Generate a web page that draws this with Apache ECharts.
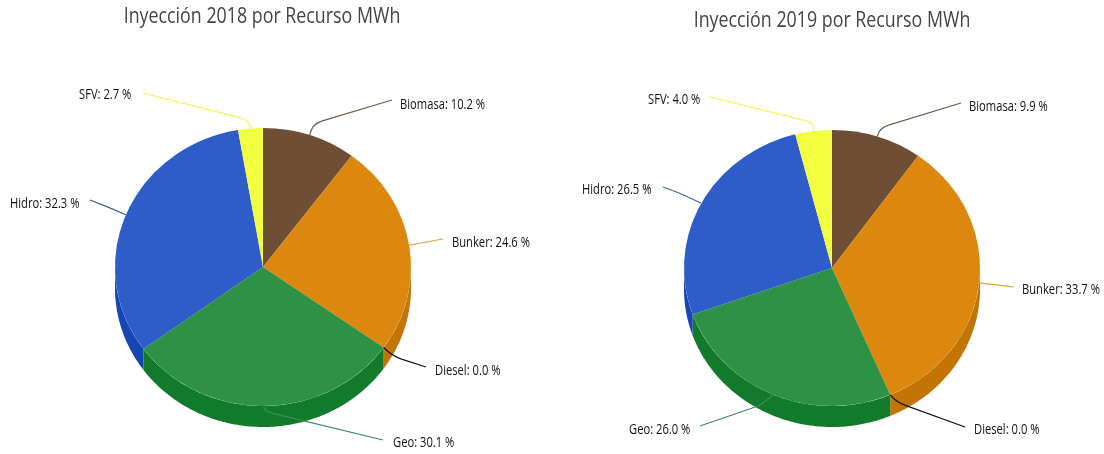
<!DOCTYPE html>
<html>
<head>
<meta charset="utf-8">
<title>Inyección por Recurso</title>
<style>html,body{margin:0;padding:0;background:#fff}#chart{width:1104px;height:454px}</style>
<script src="https://cdn.jsdelivr.net/npm/echarts@6/dist/echarts.min.js"></script>
</head>
<body>
<div id="chart"></div>
<script>
// Energy sources, clockwise from twelve o'clock
const sources = ['Biomasa', 'Bunker', 'Diesel', 'Geo', 'Hidro', 'SFV'];
// Share of injection per source, in percent
const shares2018 = [10.2, 24.6, 0.0, 30.1, 32.3, 2.7];
const shares2019 = [9.9, 33.7, 0.0, 26.0, 26.5, 4.0];

const topColors = ['#6e4e35', '#dc880e', '#111111', '#2d9245', '#2e5cc8', '#f2ff40'];
const sideColors = ['#55391f', '#c47403', '#000000', '#127a2b', '#1646b4', '#c8d020'];
const lineColors = ['#6e5a4a', '#e0a040', '#111111', '#3f8a5c', '#3f5f9f', '#f0f550'];

// No condensed face is installed, so Open Sans is narrowed horizontally
const FONT = '"Open Sans", sans-serif';
const NARROW_LABEL = 0.8;
const NARROW_TITLE = 0.81;

// Tilted-disc geometry of each pie
const disc2018 = { cx: 263, cy: 267, rx: 148, ry: 139, depth: 21 };
const disc2019 = { cx: 832, cy: 268, rx: 148, ry: 138, depth: 21 };

// Leader line bend, leader end and label start for each source
const callouts2018 = [
  { bend: [312, 124], end: [392, 100], label: [400, 105] },
  { bend: [426, 242], end: [443, 239], label: [452, 243] },
  { bend: [392, 356], end: [426, 367], label: [435, 371] },
  { bend: [263, 411], end: [383, 440], label: [393, 443] },
  { bend: [108, 207], end: [90, 200], label: [10, 204] },
  { bend: [250, 120], end: [143, 93], label: [79, 95] }
];
const callouts2019 = [
  { bend: [879, 128], end: [961, 103], label: [969, 107] },
  { bend: [996, 285], end: [1014, 287], label: [1022, 290] },
  { bend: [896, 402], end: [965, 427], label: [974, 430] },
  { bend: [764, 404], end: [700, 426], label: [629, 430] },
  { bend: [682, 194], end: [663, 187], label: [582, 190] },
  { bend: [815, 123], end: [710, 97], label: [648, 100] }
];

// Start and end angle of a slice on the screen, clockwise from twelve o'clock
function sliceAngles(values, i) {
  const total = values.reduce((a, b) => a + b, 0);
  const before = values.slice(0, i).reduce((a, b) => a + b, 0);
  const toAngle = v => -Math.PI / 2 + 2 * Math.PI * v / total;
  return [toAngle(before), toAngle(before + values[i])];
}

// Outer wall of the disc: only the part of a slice that faces the viewer
function sideSeries(values, disc) {
  return {
    type: 'custom', coordinateSystem: 'none', silent: true, clip: false,
    data: values,
    renderItem(params) {
      const i = params.dataIndex;
      let [a, b] = sliceAngles(values, i);
      a = Math.max(a, 0);
      b = Math.min(b, Math.PI);
      if (b <= a) return { type: 'group', children: [] };
      const rim = [];
      const steps = Math.ceil((b - a) * 60);
      for (let s = 0; s <= steps; s++) {
        const t = a + (b - a) * s / steps;
        rim.push([disc.cx + disc.rx * Math.cos(t), disc.cy + disc.ry * Math.sin(t)]);
      }
      const lower = rim.map(p => [p[0], p[1] + disc.depth]).reverse();
      return {
        type: 'polygon',
        shape: { points: rim.concat(lower) },
        style: { fill: sideColors[i] }
      };
    }
  };
}

// Top face: sectors squeezed vertically to follow the tilt
function topSeries(values, disc) {
  return {
    type: 'custom', coordinateSystem: 'none', silent: true, clip: false,
    data: values,
    renderItem(params) {
      const i = params.dataIndex;
      const [a, b] = sliceAngles(values, i);
      if (b <= a) return { type: 'group', children: [] };
      return {
        type: 'sector',
        x: disc.cx, y: disc.cy, scaleY: disc.ry / disc.rx,
        shape: { cx: 0, cy: 0, r0: 0, r: disc.rx, startAngle: a, endAngle: b, clockwise: true },
        style: { fill: topColors[i] }
      };
    }
  };
}

// Leader lines and value labels, starting at the rim at each slice's mid angle
function calloutSeries(values, disc, callouts) {
  return {
    type: 'custom', coordinateSystem: 'none', silent: true, clip: false,
    data: values,
    renderItem(params) {
      const i = params.dataIndex;
      const [a, b] = sliceAngles(values, i);
      const mid = (a + b) / 2;
      const start = [disc.cx + disc.rx * Math.cos(mid), disc.cy + disc.ry * Math.sin(mid)];
      const { bend, end, label } = callouts[i];
      const len = Math.hypot(end[0] - bend[0], end[1] - bend[1]);
      const k = Math.min(10, len) / len;
      const knee = [bend[0] + (end[0] - bend[0]) * k, bend[1] + (end[1] - bend[1]) * k];
      const stroke = { stroke: lineColors[i], lineWidth: 1.2, fill: null };
      return {
        type: 'group',
        children: [
          { type: 'bezierCurve',
            shape: { x1: start[0], y1: start[1], x2: knee[0], y2: knee[1], cpx1: bend[0], cpy1: bend[1] },
            style: stroke },
          { type: 'line',
            shape: { x1: knee[0], y1: knee[1], x2: end[0], y2: end[1] },
            style: stroke },
          { type: 'text',
            x: label[0], y: label[1], scaleX: NARROW_LABEL,
            style: {
              text: sources[i] + ': ' + values[i].toFixed(1) + ' %',
              font: '14px ' + FONT, fill: '#111111',
              textAlign: 'left', textVerticalAlign: 'middle'
            } }
        ]
      };
    }
  };
}

function titleText(text, x, y) {
  return {
    type: 'text', x, y, scaleX: NARROW_TITLE,
    style: {
      text, font: '22px ' + FONT, fill: '#444444',
      textAlign: 'center', textVerticalAlign: 'middle'
    }
  };
}

const chart = echarts.init(document.getElementById('chart'), null, { renderer: 'canvas' });
chart.setOption({
  animation: false,
  backgroundColor: '#ffffff',
  graphic: [
    titleText('Inyección 2018 por Recurso MWh', 262, 17),
    titleText('Inyección 2019 por Recurso MWh', 832, 21)
  ],
  series: [
    sideSeries(shares2018, disc2018),
    topSeries(shares2018, disc2018),
    calloutSeries(shares2018, disc2018, callouts2018),
    sideSeries(shares2019, disc2019),
    topSeries(shares2019, disc2019),
    calloutSeries(shares2019, disc2019, callouts2019)
  ]
});
</script>
</body>
</html>
